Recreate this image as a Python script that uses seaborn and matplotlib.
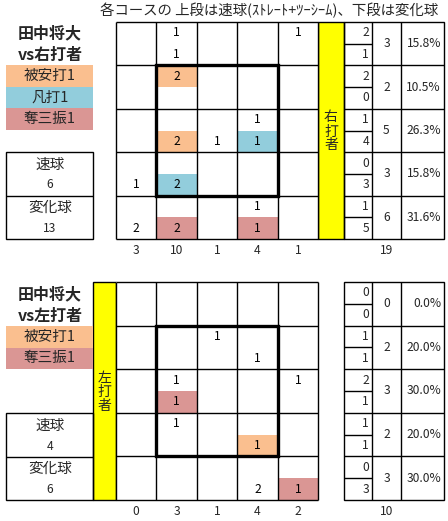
import numpy as np
import matplotlib
matplotlib.use('Agg')
import matplotlib.pyplot as plt
import seaborn as sns
from matplotlib.colors import ListedColormap
from matplotlib.patches import Rectangle

sns.set_theme(style='white')
plt.rcParams['font.family'] = ['Noto Sans CJK JP', 'DejaVu Sans']

# ---------------- data ----------------
title = "各コースの 上段は速球(ｽﾄﾚｰﾄ+ﾂｰｼｰﾑ)、下段は変化球"
pitcher = "田中将大"
side_right = "右打者"
side_left = "左打者"
fast_label = "速球"
break_label = "変化球"

# right-handed batters: 5x5 zone, upper half = fastball, lower half = breaking ball
R_fast = [[0, 1, 0, 0, 1],
          [0, 2, 0, 0, 0],
          [0, 0, 0, 1, 0],
          [0, 0, 0, 0, 0],
          [0, 0, 0, 1, 0]]
R_break = [[0, 1, 0, 0, 0],
           [0, 0, 0, 0, 0],
           [0, 2, 1, 1, 0],
           [1, 2, 0, 0, 0],
           [2, 2, 0, 1, 0]]
# result code per half cell: 0 none, 1 hit (被安打), 2 out (凡打), 3 strikeout (奪三振)
R_fast_res = [[0, 0, 0, 0, 0],
              [0, 1, 0, 0, 0],
              [0, 0, 0, 0, 0],
              [0, 0, 0, 0, 0],
              [0, 0, 0, 0, 0]]
R_break_res = [[0, 0, 0, 0, 0],
               [0, 0, 0, 0, 0],
               [0, 1, 0, 2, 0],
               [0, 2, 0, 0, 0],
               [0, 3, 0, 3, 0]]
R_legend = [("被安打1", 1), ("凡打1", 2), ("奪三振1", 3)]

# left-handed batters
L_fast = [[0, 0, 0, 0, 0],
          [0, 0, 1, 0, 0],
          [0, 1, 0, 0, 1],
          [0, 1, 0, 0, 0],
          [0, 0, 0, 0, 0]]
L_break = [[0, 0, 0, 0, 0],
           [0, 0, 0, 1, 0],
           [0, 1, 0, 0, 0],
           [0, 0, 0, 1, 0],
           [0, 0, 0, 2, 1]]
L_fast_res = [[0] * 5 for _ in range(5)]
L_break_res = [[0, 0, 0, 0, 0],
               [0, 0, 0, 0, 0],
               [0, 3, 0, 0, 0],
               [0, 0, 0, 1, 0],
               [0, 0, 0, 0, 3]]
L_legend = [("被安打1", 1), ("奪三振1", 3)]

result_colors = ['#FFFFFF', '#FABF8F', '#92CDDC', '#DA9694']
yellow = '#FFFF00'

# ---------------- layout (pixels) ----------------
W, H = 448, 521
fig = plt.figure(figsize=(W / 100, H / 100), dpi=100)
fig.patch.set_facecolor('white')
ax0 = fig.add_axes([0, 0, 1, 1])
ax0.set_xlim(0, W)
ax0.set_ylim(H, 0)
ax0.axis('off')

ax0.text(269, 10, title, ha='center', va='center', fontsize=10.4)

cmap = ListedColormap(result_colors)
NUM_FS = 8.7
LAB_FS = 10.5


def panel(fast, brk, fres, bres, legend, side, top, bottom, yellow_x, yw, title_y, leg_top, spd_top):
    fast = np.array(fast); brk = np.array(brk)
    fres = np.array(fres); bres = np.array(bres)
    counts = np.zeros((10, 5), int)
    codes = np.zeros((10, 5), int)
    counts[0::2] = fast; counts[1::2] = brk
    codes[0::2] = fres; codes[1::2] = bres
    annot = np.where(counts > 0, counts.astype(str), '')

    gx0, gx1 = 116, 318
    ax = fig.add_axes([gx0 / W, 1 - bottom / H, (gx1 - gx0) / W, (bottom - top) / H])
    sns.heatmap(codes, cmap=cmap, vmin=-0.5, vmax=3.5, cbar=False, annot=annot, fmt='',
                annot_kws={'fontsize': NUM_FS, 'color': 'black'}, xticklabels=False,
                yticklabels=False, ax=ax, linewidths=0)
    ax.hlines(np.arange(0, 11, 2), 0, 5, color='black', lw=1, clip_on=False)
    ax.vlines(np.arange(6), 0, 10, color='black', lw=1, clip_on=False)
    ax.add_patch(Rectangle((1, 2), 3, 6, fill=False, ec='black', lw=2.4, clip_on=False))
    col_tot = counts.sum(axis=0)
    for j, v in enumerate(col_tot):
        ax.text(j + 0.5, 10.55, str(v), ha='center', va='center', fontsize=NUM_FS, clip_on=False)

    # yellow side bar
    ax0.add_patch(Rectangle((yellow_x, top), yw, bottom - top, fc=yellow, ec='black', lw=1))
    ax0.text(yellow_x + yw / 2, (top + bottom) / 2 + 1, "\n".join(side), ha='center', va='center',
             fontsize=10, linespacing=1.0)

    # right table
    tx = [344, 372, 401, 444]
    rh = (bottom - top) / 5
    total = counts.sum()
    ax0.add_patch(Rectangle((tx[0], top), tx[3] - tx[0], bottom - top, fill=False, ec='black', lw=1))
    ax0.vlines(tx[1:3], top, bottom, color='black', lw=1)
    for i in range(5):
        y0 = top + i * rh
        if i > 0:
            ax0.hlines(y0, tx[0], tx[3], color='black', lw=1)
        ax0.hlines(y0 + rh / 2, tx[0], tx[1], color='black', lw=1)
        f = fast[i].sum(); b = brk[i].sum()
        ax0.text(tx[1] - 3, y0 + rh * 0.25, str(f), ha='right', va='center', fontsize=NUM_FS)
        ax0.text(tx[1] - 3, y0 + rh * 0.75, str(b), ha='right', va='center', fontsize=NUM_FS)
        ax0.text((tx[1] + tx[2]) / 2, y0 + rh / 2, str(f + b), ha='center', va='center', fontsize=NUM_FS)
        ax0.text(tx[3] - 3, y0 + rh / 2, f"{(f + b) / total * 100:.1f}%", ha='right', va='center',
                 fontsize=NUM_FS)
    ax0.text((tx[1] + tx[2]) / 2, bottom + 11.5, str(total), ha='center', va='center', fontsize=NUM_FS)

    # left title
    ax0.text(50, title_y, pitcher, ha='center', va='center', fontsize=11.5, fontweight='bold')
    ax0.text(50, title_y + 22, "vs" + side, ha='center', va='center', fontsize=11.5, fontweight='bold')

    # legend
    lh = 21.5
    for k, (lab, code) in enumerate(legend):
        y0 = leg_top + k * lh
        ax0.add_patch(Rectangle((6, y0), 87, lh, fc=result_colors[code], ec='none'))
        ax0.text(50, y0 + lh / 2, lab, ha='center', va='center', fontsize=LAB_FS)

    # speed box
    sh = 43.5
    ax0.add_patch(Rectangle((6, spd_top), 87, 2 * sh, fill=False, ec='black', lw=1))
    ax0.hlines(spd_top + sh, 6, 93, color='black', lw=1)
    ax0.text(50, spd_top + 12.5, fast_label, ha='center', va='center', fontsize=LAB_FS)
    ax0.text(50, spd_top + 33, str(fast.sum()), ha='center', va='center', fontsize=NUM_FS)
    ax0.text(50, spd_top + sh + 12.5, break_label, ha='center', va='center', fontsize=LAB_FS)
    ax0.text(50, spd_top + sh + 33, str(brk.sum()), ha='center', va='center', fontsize=NUM_FS)


panel(R_fast, R_break, R_fast_res, R_break_res, R_legend, side_right,
      top=22, bottom=239, yellow_x=318, yw=26, title_y=33, leg_top=65, spd_top=152)
panel(L_fast, L_break, L_fast_res, L_break_res, L_legend, side_left,
      top=282, bottom=500, yellow_x=93, yw=23, title_y=294, leg_top=326, spd_top=413)

fig.savefig('out.png', dpi=100, facecolor='white')
